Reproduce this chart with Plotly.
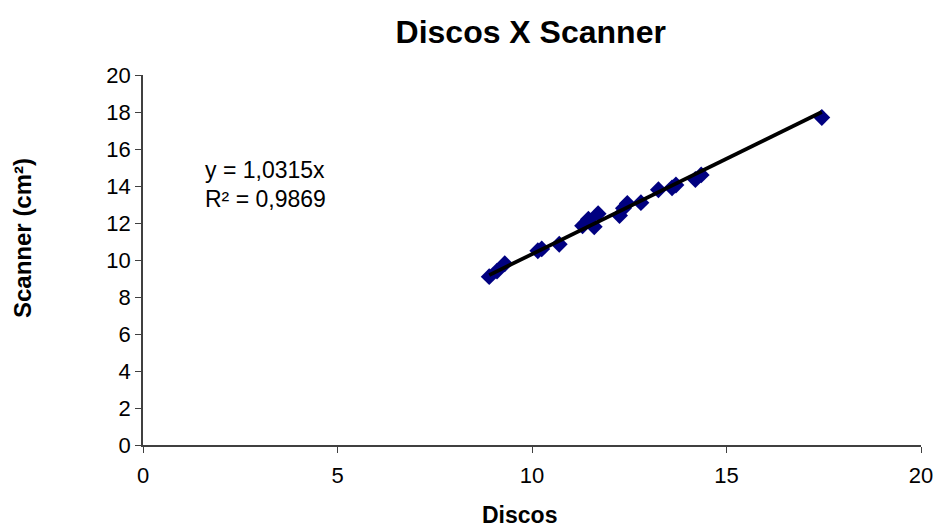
import plotly.graph_objects as go

discos = [8.9, 9.1, 9.3, 10.15, 10.25, 10.7, 11.3, 11.45, 11.6, 11.7, 12.25, 12.35, 12.45, 12.8, 13.25, 13.6, 13.7, 14.2, 14.35, 17.45]
scanner = [9.1, 9.4, 9.8, 10.5, 10.6, 10.85, 11.85, 12.2, 11.8, 12.5, 12.4, 12.8, 13.05, 13.1, 13.8, 13.9, 14.05, 14.35, 14.6, 17.7]
slope = 1.0315
r2 = 0.9869

xmin, xmax = min(discos), max(discos)
trend_x = [xmin, xmax]
trend_y = [slope * v for v in trend_x]

fig = go.Figure()
fig.add_trace(go.Scatter(x=discos, y=scanner, mode="markers",
                         marker=dict(symbol="diamond", color="#000080", size=13), showlegend=False))
fig.add_trace(go.Scatter(x=trend_x, y=trend_y, mode="lines",
                         line=dict(color="black", width=3.8), showlegend=False))

font = "Liberation Sans, Arial, sans-serif"
L, R, T, B, W, H = 143, 16, 75, 87, 937, 532
pw, ph = W - L - R, H - T - B

def px(xp, yp):
    return (xp - L) / pw, (H - yp - B) / ph

xt_x, xt_y = px(519, 515)
yt_x, yt_y = px(22, 238)

fig.update_layout(
    width=W, height=H,
    margin=dict(l=L, r=R, t=T, b=B, autoexpand=False),
    paper_bgcolor="white", plot_bgcolor="white",
    font=dict(family=font, color="black", size=22),
    title=dict(text="<b>Discos X Scanner</b>", x=0.5664, xanchor="center", y=0.94, yanchor="middle",
               font=dict(size=32, family=font, color="black")),
    xaxis=dict(range=[0, 20], tickvals=[0, 5, 10, 15, 20], showgrid=False, zeroline=False,
               showline=True, linecolor="#404040", linewidth=1.5, ticks="outside", ticklen=6,
               tickcolor="#404040", tickfont=dict(size=22), automargin=False, ticklabelstandoff=4),
    yaxis=dict(range=[0, 20], tickvals=list(range(0, 21, 2)), showgrid=False, zeroline=False,
               showline=True, linecolor="#404040", linewidth=1.5, ticks="outside", ticklen=6,
               tickcolor="#404040", tickfont=dict(size=22), automargin=False),
    annotations=[
        dict(x=1.55, y=14.85, xref="x", yref="y", xanchor="left", yanchor="middle",
             text=f"y = {str(slope).replace('.', ',')}x", showarrow=False, font=dict(size=23)),
        dict(x=1.55, y=13.3, xref="x", yref="y", xanchor="left", yanchor="middle",
             text=f"R² = {str(r2).replace('.', ',')}", showarrow=False, font=dict(size=23)),
        dict(x=xt_x, y=xt_y, xref="paper", yref="paper", text="<b>Discos</b>", showarrow=False,
             xanchor="center", yanchor="middle", font=dict(size=23)),
        dict(x=yt_x, y=yt_y, xref="paper", yref="paper", text="<b>Scanner (cm²)</b>", showarrow=False,
             textangle=-90, xanchor="center", yanchor="middle", font=dict(size=24)),
    ],
)
fig.write_html("out.html")
